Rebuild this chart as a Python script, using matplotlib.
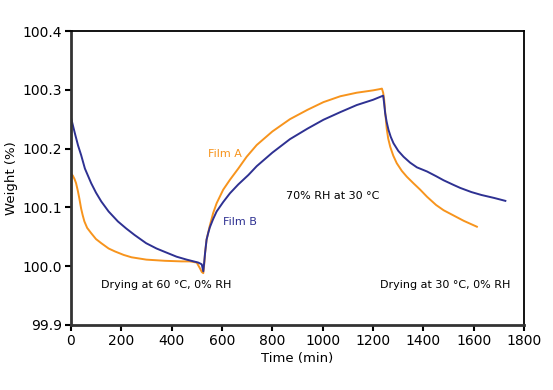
import matplotlib.pyplot as plt

# Film A (orange)
time_a = [0, 8, 15, 21, 28, 34, 41, 47, 54, 65, 81, 100, 121, 150, 175, 210, 241, 300,
          374, 440, 473, 500, 513, 520, 526, 530, 533, 539, 546, 552, 565, 579, 605, 632,
          665, 698, 738, 800, 870, 940, 1003, 1070, 1135, 1200, 1225, 1235, 1240, 1244,
          1248, 1254, 1260, 1268, 1280, 1294, 1314, 1334, 1360, 1387, 1414, 1450, 1480,
          1520, 1560, 1612]
weight_a = [100.158, 100.154, 100.148, 100.141, 100.128, 100.115, 100.098, 100.087, 100.076,
            100.065, 100.056, 100.046, 100.039, 100.030, 100.025, 100.019, 100.015, 100.011,
            100.009, 100.008, 100.008, 100.006, 99.996, 99.990, 99.988, 100.005, 100.022,
            100.045, 100.058, 100.069, 100.090, 100.107, 100.130, 100.147,
            100.166, 100.186, 100.206, 100.229, 100.250, 100.266, 100.279, 100.289, 100.295,
            100.299, 100.301, 100.302, 100.295, 100.283,
            100.262, 100.234, 100.217, 100.203, 100.188, 100.175, 100.162, 100.152, 100.141,
            100.130, 100.118, 100.104, 100.095, 100.086, 100.077, 100.067]

# Film B (blue)
time_b = [0, 15, 29, 41, 56, 81, 100, 121, 150, 187, 220, 253, 299, 340, 374, 420, 460,
          506, 520, 526, 530, 533, 539, 546, 552, 565, 579, 605, 632, 665, 705, 738, 800,
          870, 940, 1003, 1070, 1135, 1200, 1240, 1243, 1248, 1254, 1261, 1270, 1281,
          1300, 1321, 1347, 1374, 1414, 1450, 1480, 1520, 1546, 1590, 1630, 1680, 1725]
weight_b = [100.254, 100.228, 100.205, 100.189, 100.166, 100.141, 100.125, 100.110, 100.093,
            100.076, 100.064, 100.053, 100.039, 100.030, 100.024, 100.016, 100.011,
            100.006, 100.003, 99.991, 100.008, 100.022, 100.045, 100.057, 100.066, 100.080,
            100.093, 100.109, 100.124, 100.139, 100.155, 100.170, 100.193,
            100.216, 100.234, 100.249, 100.262, 100.274, 100.283, 100.290, 100.280, 100.260,
            100.245, 100.232, 100.220, 100.209,
            100.196, 100.186, 100.176, 100.168, 100.161, 100.153, 100.146, 100.138, 100.133,
            100.126, 100.121, 100.116, 100.111]

orange = "#F7941D"
navy = "#2E3192"

fig = plt.figure(figsize=(5.53, 3.9), dpi=100)
ax = fig.add_axes([0.128, 0.167, 0.82, 0.7535])

ax.plot(time_a, weight_a, color=orange, lw=1.4)
ax.plot(time_b, weight_b, color=navy, lw=1.4)

ax.set_xlim(0, 1800)
ax.set_ylim(99.9, 100.4)
ax.set_xticks(range(0, 1801, 200))
ax.set_yticks([99.9, 100.0, 100.1, 100.2, 100.3, 100.4])
ax.set_yticklabels(["99.9", "100.0", "100.1", "100.2", "100.3", "100.4"])
ax.tick_params(direction="out", length=4, width=1.5, labelsize=10, colors="black", pad=2.5)
ax.tick_params(top=False, right=False)
for s in ["left", "bottom"]:
    ax.spines[s].set_linewidth(2)
    ax.spines[s].set_color("#333333")
for s in ["top", "right"]:
    ax.spines[s].set_linewidth(1.3)

ax.set_xlabel("Time (min)", fontsize=9.5, labelpad=3)
ax.set_ylabel("Weight (%)", fontsize=9.5, labelpad=3)

ax.text(544, 100.191, "Film A", color=orange, fontsize=8, va="center")
ax.text(604, 100.075, "Film B", color=navy, fontsize=8, va="center")
ax.text(854, 100.119, "70% RH at 30 °C", fontsize=8, va="center")
ax.text(119, 99.968, "Drying at 60 °C, 0% RH", fontsize=8, va="center")
ax.text(1228, 99.968, "Drying at 30 °C, 0% RH", fontsize=8, va="center")

fig.savefig("out.png", dpi=100)
